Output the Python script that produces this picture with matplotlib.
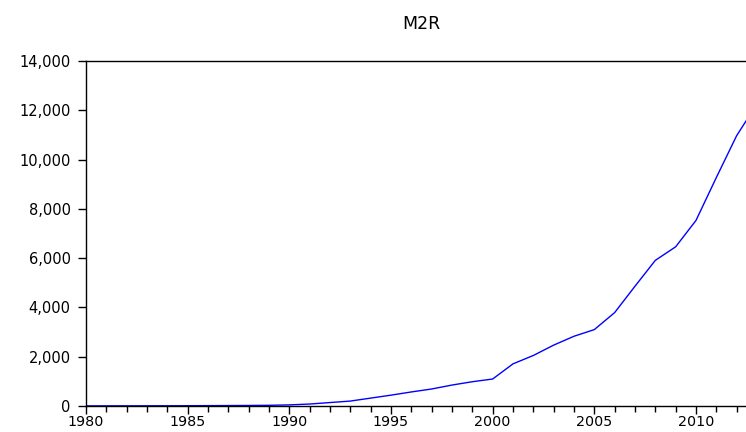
import numpy as np
import matplotlib
matplotlib.use("Agg")
import matplotlib.pyplot as plt
from matplotlib.ticker import FuncFormatter, MultipleLocator

# M2R, valores anuales
years = list(range(1980, 2014))
m2r = [5, 6, 7, 8, 10, 12, 15, 18, 22, 28,
       45, 80, 140, 200, 320, 440, 570, 690, 850, 985,
       1095, 1710, 2050, 2470, 2830, 3100, 3790, 4860, 5910, 6460,
       7530, 9270, 10970, 12260]

plt.rcParams["font.family"] = ["DejaVu Sans"]

fig = plt.figure(figsize=(7.46, 4.32), dpi=100)
ax = fig.add_axes([86 / 746, 1 - 406 / 432, 1 - 86 / 746, (406 - 61) / 432])
ax.plot(years, m2r, color="#0000ff", lw=1.0)

ax.set_xlim(1980, 2012.46)
ax.set_ylim(0, 14000)
ax.xaxis.set_major_locator(MultipleLocator(5))
ax.xaxis.set_minor_locator(MultipleLocator(1))
ax.yaxis.set_major_locator(MultipleLocator(2000))
ax.yaxis.set_major_formatter(FuncFormatter(lambda v, p: f"{int(v):,}"))

ax.spines["right"].set_visible(False)
for s in ["left", "bottom", "top"]:
    ax.spines[s].set_linewidth(1.0)
ax.tick_params(axis="x", which="major", direction="out", length=6, width=1, labelsize=10.3, pad=0.8)
ax.tick_params(axis="x", which="minor", direction="out", length=4, width=1)
ax.tick_params(axis="y", which="major", direction="out", length=6, width=1, labelsize=10.5, pad=5)

fig.text(421 / 746, 1 - 24 / 432, "M2R", ha="center", va="center", fontsize=12.5)

fig.savefig("out.png", dpi=100)
plt.close(fig)
print("OK")
